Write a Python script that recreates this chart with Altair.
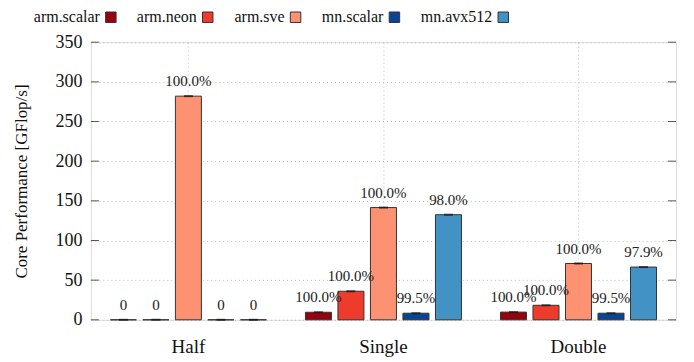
import altair as alt
import pandas as pd

groups = ["Half", "Single", "Double"]
series = ["arm.scalar", "arm.neon", "arm.sve", "mn.scalar", "mn.avx512"]
colors = ["#99000d", "#ef3b2c", "#fc9272", "#084594", "#4292c6"]

half_vals = [0, 0, 282, 0, 0]
single_vals = [9.5, 36, 141.5, 8.3, 132.5]
double_vals = [9.7, 18.3, 71, 8.3, 66.5]

half_lbl = ["0", "0", "100.0%", "0", "0"]
single_lbl = ["100.0%", "100.0%", "100.0%", "99.5%", "98.0%"]
double_lbl = ["100.0%", "100.0%", "100.0%", "99.5%", "97.9%"]

y_ticks = [0, 50, 100, 150, 200, 250, 300, 350]

rows = []
for g, vals, lbls in zip(groups, [half_vals, single_vals, double_vals],
                         [half_lbl, single_lbl, double_lbl]):
    for s, v, l in zip(series, vals, lbls):
        rows.append({"group": g, "series": s, "value": v, "label": l})
df = pd.DataFrame(rows)
ticks_df = pd.DataFrame({"t": y_ticks})

W, H = 586, 278
FONT = "Liberation Serif"

x_axis = alt.Axis(title=None, labelFontSize=19, labelPadding=18,
                  labelAngle=0, ticks=False, domain=False,
                  grid=True, gridDash=[1, 3], gridColor="#bbbbbb",
                  labelColor="#111", labelFont=FONT)
x_enc = alt.X("group:N", sort=groups,
              scale=alt.Scale(paddingInner=0, paddingOuter=0), axis=x_axis)
xoff = alt.XOffset("series:N", sort=series,
                   scale=alt.Scale(paddingInner=0.2, paddingOuter=0.6))
y_scale = alt.Scale(domain=[0, 350], nice=False)
y_axis = alt.Axis(title="Core Performance [GFlop/s]", values=y_ticks,
                  labelFontSize=18, titleFontSize=17, labelPadding=9,
                  titlePadding=24, ticks=False, domain=False,
                  labelOverlap=False,
                  grid=True, gridDash=[1, 3], gridColor="#bbbbbb",
                  labelColor="#111", titleColor="#111",
                  labelFont=FONT, titleFont=FONT,
                  titleFontWeight="normal")
y_enc = alt.Y("value:Q", scale=y_scale, axis=y_axis)
y_tick_enc = alt.Y("t:Q", scale=y_scale, axis=y_axis)

bars = alt.Chart(df).mark_bar(stroke="#333333", strokeWidth=1).encode(
    x=x_enc,
    xOffset=xoff,
    y=y_enc,
    color=alt.Color("series:N", sort=series,
                    scale=alt.Scale(domain=series, range=colors),
                    legend=alt.Legend(title=None, orient="none",
                                      direction="horizontal",
                                      legendX=12, legendY=-33,
                                      symbolType="square", symbolSize=110,
                                      symbolStrokeColor="#333333",
                                      symbolStrokeWidth=1,
                                      labelAlign="right",
                                      labelOffset={"expr": "-19"},
                                      columnPadding=18, padding=0,
                                      labelFontSize=16, labelFont=FONT,
                                      labelColor="#111", labelLimit=200)),
)

caps = alt.Chart(df).mark_tick(color="#111111", thickness=2, size=9).encode(
    x=x_enc, xOffset=xoff, y=y_enc,
)

labels = alt.Chart(df).mark_text(font=FONT, fontSize=15, color="#222222",
                                 baseline="alphabetic", dy=-10).encode(
    x=x_enc, xOffset=xoff, y=y_enc,
    text="label:N",
)

left_ticks = alt.Chart(ticks_df).mark_rule(color="#555555").encode(
    y=y_tick_enc,
    x=alt.value(0), x2=alt.value(8),
)
right_ticks = alt.Chart(ticks_df).mark_rule(color="#555555").encode(
    y=y_tick_enc,
    x=alt.value(W - 8), x2=alt.value(W),
)

chart = alt.layer(bars, caps, labels, left_ticks, right_ticks).properties(
    width=W, height=H,
    autosize=alt.AutoSizeParams(type="none"),
    padding={"left": 83, "top": 34, "right": 10, "bottom": 40},
).configure_view(
    stroke="#555555", strokeWidth=1.5
).configure(background="white", font=FONT)

chart.save("out.html", embed_options={"renderer": "svg", "actions": False})
